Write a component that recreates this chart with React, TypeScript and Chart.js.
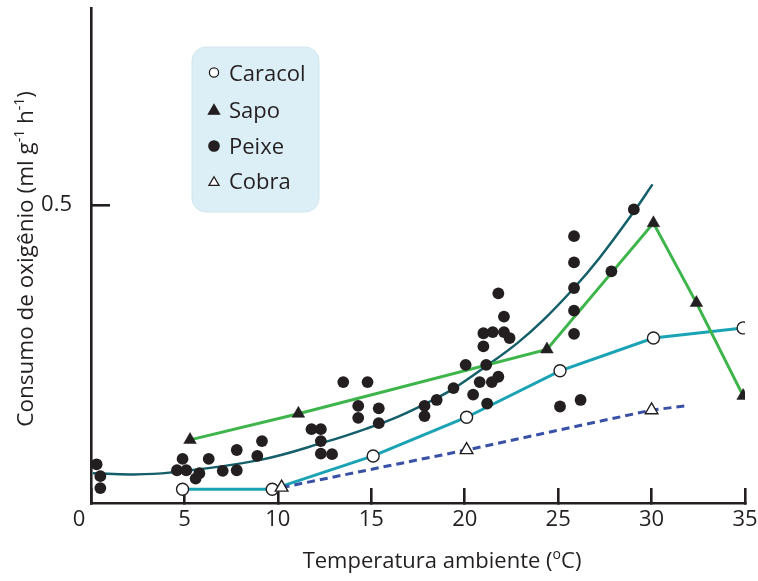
import React, { useEffect, useRef } from 'react';
import { Chart, registerables } from 'chart.js';

Chart.register(...registerables);

// ---------------- data ----------------
const caracolX = [4.9, 9.7, 15.1, 20.1, 25.1, 30.1, 34.9];
const caracolY = [0.023, 0.023, 0.079, 0.144, 0.222, 0.277, 0.294];

const sapoX = [5.3, 11.1, 24.4, 30.1, 32.4, 34.9];
const sapoY = [0.106, 0.15, 0.258, 0.47, 0.336, 0.18];

const cobraX = [10.2, 20.1, 30.0, 31.8];
const cobraY = [0.026, 0.089, 0.156, 0.163];
const cobraMarked = [true, true, true, false];

const peixeX = [
  0.3, 0.5, 0.5, 4.9, 4.6, 5.1, 5.6, 5.8, 6.3, 7.05, 7.8, 7.8, 8.9, 9.15,
  11.8, 12.3, 12.3, 12.3, 12.9, 13.5, 14.8, 14.3, 14.3, 15.4, 15.4, 17.85,
  17.85, 18.5, 19.4, 20.05, 20.45, 20.8, 21.2, 21.45, 21.8, 21.15, 21.0,
  21.0, 21.5, 22.1, 22.4, 22.1, 21.8, 29.05, 25.85, 25.85, 25.85, 25.85,
  25.85, 27.85, 25.1, 26.2,
];
const peixeY = [
  0.065, 0.045, 0.025, 0.074, 0.055, 0.055, 0.041, 0.05, 0.074, 0.054, 0.089,
  0.055, 0.079, 0.104, 0.124, 0.124, 0.104, 0.083, 0.082, 0.203, 0.203, 0.163,
  0.143, 0.159, 0.134, 0.163, 0.146, 0.173, 0.193, 0.232, 0.182, 0.203, 0.167,
  0.203, 0.212, 0.232, 0.263, 0.285, 0.287, 0.287, 0.277, 0.313, 0.352, 0.493,
  0.448, 0.404, 0.361, 0.323, 0.284, 0.389, 0.162, 0.173,
];

// fitted trend curve for Peixe
const curveX = [0.1, 2.2, 4.2, 9.0, 12.6, 14.75, 16.5, 18.3, 19.4, 21.2, 22.8, 24.2, 25.85, 27.2, 29.0, 30.05];
const curveY = [0.05, 0.048, 0.051, 0.072, 0.103, 0.125, 0.146, 0.173, 0.192, 0.231, 0.268, 0.307, 0.361, 0.411, 0.487, 0.535];

const xTickValues = [0, 5, 10, 15, 20, 25, 30, 35];
const xTickLabels = ['0', '5', '10', '15', '20', '25', '30', '35'];
const yTickValues = [0.5];
const yTickLabels = ['0.5'];

const legendLabels = ['Caracol', 'Sapo', 'Peixe', 'Cobra'];

type Run = { text: string; sup?: boolean };
const xTitleRuns: Run[] = [{ text: 'Temperatura ambiente (' }, { text: 'o', sup: true }, { text: 'C)' }];
const yTitleRuns: Run[] = [
  { text: 'Consumo de oxigênio (ml g' },
  { text: '-1', sup: true },
  { text: ' h' },
  { text: '-1', sup: true },
  { text: ')' },
];

// ---------------- styles ----------------
const FONT = "'Open Sans', sans-serif";
const INK = '#231F20';
const C_CARACOL = '#1AA3B5';
const C_SAPO = '#3DB54A';
const C_COBRA = '#3850A5';
const C_CURVE = '#155F6A';

const toPts = (xs: number[], ys: number[]) => xs.map((x, i) => ({ x, y: ys[i] }));

function drawRuns(ctx: CanvasRenderingContext2D, runs: Run[], ax: number, ay: number, rotation: number, size: number) {
  ctx.save();
  ctx.translate(ax, ay);
  ctx.rotate(rotation);
  const supSize = Math.round(size * 0.62);
  const widths = runs.map((r) => {
    ctx.font = `${r.sup ? supSize : size}px ${FONT}`;
    return ctx.measureText(r.text).width;
  });
  const total = widths.reduce((a, b) => a + b, 0);
  let x = -total / 2;
  ctx.textAlign = 'left';
  ctx.textBaseline = 'alphabetic';
  ctx.fillStyle = INK;
  runs.forEach((r, i) => {
    ctx.font = `${r.sup ? supSize : size}px ${FONT}`;
    ctx.fillText(r.text, x, r.sup ? -size * 0.4 : 0);
    x += widths[i];
  });
  ctx.restore();
}

function drawSymbol(ctx: CanvasRenderingContext2D, style: string, x: number, y: number, r: number, fill: string) {
  ctx.beginPath();
  if (style === 'circle') {
    ctx.arc(x, y, r, 0, Math.PI * 2);
  } else {
    let a = 0;
    ctx.moveTo(x + Math.sin(a) * r, y - Math.cos(a) * r);
    a += (2 * Math.PI) / 3;
    ctx.lineTo(x + Math.sin(a) * r, y - Math.cos(a) * r);
    a += (2 * Math.PI) / 3;
    ctx.lineTo(x + Math.sin(a) * r, y - Math.cos(a) * r);
    ctx.closePath();
  }
  ctx.fillStyle = fill;
  ctx.fill();
  ctx.lineWidth = 1.3;
  ctx.strokeStyle = INK;
  ctx.stroke();
}

const overlayPlugin = {
  id: 'overlayText',
  afterDraw(chart: any) {
    const ctx: CanvasRenderingContext2D = chart.ctx;
    const xs = chart.scales.x;
    const area = chart.chartArea;
    ctx.save();
    // origin label, set left of the axis
    ctx.font = `22px ${FONT}`;
    ctx.fillStyle = INK;
    ctx.textAlign = 'center';
    ctx.textBaseline = 'middle';
    ctx.fillText(xTickLabels[0], xs.getPixelForValue(xTickValues[0]) - 12, xs.top + 16.6);

    // axis titles
    drawRuns(ctx, xTitleRuns, (area.left + area.right) / 2 + 24, 568, 0, 22);
    drawRuns(ctx, yTitleRuns, 33, (area.top + area.bottom) / 2 + 3, -Math.PI / 2, 22.5);

    // legend box
    const bx = 192, by = 47, bw = 127, bh = 165, br = 14;
    ctx.beginPath();
    ctx.moveTo(bx + br, by);
    ctx.arcTo(bx + bw, by, bx + bw, by + bh, br);
    ctx.arcTo(bx + bw, by + bh, bx, by + bh, br);
    ctx.arcTo(bx, by + bh, bx, by, br);
    ctx.arcTo(bx, by, bx + bw, by, br);
    ctx.closePath();
    ctx.fillStyle = '#DDEFF6';
    ctx.fill();
    ctx.lineWidth = 1;
    ctx.strokeStyle = '#CFE6EF';
    ctx.stroke();

    const symbols = [
      { style: 'circle', r: 4.6, fill: '#FFFFFF' },
      { style: 'triangle', r: 6.4, fill: INK },
      { style: 'circle', r: 5.2, fill: INK },
      { style: 'triangle', r: 5.8, fill: '#FFFFFF' },
    ];
    const symY = [72.5, 111, 146, 182.5];
    const textBase = [80.5, 117.5, 153.5, 189];
    legendLabels.forEach((lab, i) => {
      const s = symbols[i];
      drawSymbol(ctx, s.style, 214, symY[i], s.r, s.fill);
      ctx.font = `22px ${FONT}`;
      ctx.fillStyle = INK;
      ctx.textAlign = 'left';
      ctx.textBaseline = 'alphabetic';
      ctx.fillText(lab, 229, textBase[i]);
    });
    ctx.restore();
  },
};

export default function App() {
  const canvasRef = useRef<HTMLCanvasElement | null>(null);

  useEffect(() => {
    document.body.style.margin = '0';
    const canvas = canvasRef.current;
    if (!canvas) return;

    const chart = new Chart(canvas, {
      type: 'scatter',
      data: {
        datasets: [
          {
            label: 'Peixe',
            data: toPts(peixeX, peixeY),
            showLine: false,
            pointStyle: 'circle',
            pointRadius: 5.9,
            pointBackgroundColor: INK,
            pointBorderColor: INK,
            pointBorderWidth: 0,
          },
          {
            label: 'Cobra',
            data: toPts(cobraX, cobraY),
            showLine: true,
            borderColor: C_COBRA,
            borderWidth: 3,
            borderDash: [8, 5],
            pointStyle: 'triangle',
            pointRadius: cobraMarked.map((m) => (m ? 7.3 : 0)),
            pointBackgroundColor: '#FFFFFF',
            pointBorderColor: INK,
            pointBorderWidth: 1.4,
          },
          {
            label: 'Sapo',
            data: toPts(sapoX, sapoY),
            showLine: true,
            borderColor: C_SAPO,
            borderWidth: 3,
            pointStyle: 'triangle',
            pointRadius: 7.3,
            pointBackgroundColor: INK,
            pointBorderColor: INK,
            pointBorderWidth: 0.5,
          },
          {
            label: 'Caracol',
            data: toPts(caracolX, caracolY),
            showLine: true,
            borderColor: C_CARACOL,
            borderWidth: 3,
            pointStyle: 'circle',
            pointRadius: 6,
            pointBackgroundColor: '#FFFFFF',
            pointBorderColor: INK,
            pointBorderWidth: 1.4,
          },
          {
            label: 'Peixe (tendência)',
            data: toPts(curveX, curveY),
            showLine: true,
            borderColor: C_CURVE,
            borderWidth: 2.5,
            tension: 0.4,
            pointRadius: 0,
          },
        ] as any,
      },
      options: {
        responsive: false,
        animation: false,
        events: [],
        layout: { padding: { top: 8, right: 13, left: 0, bottom: 0 } },
        plugins: {
          legend: { display: false },
          tooltip: { enabled: false },
          title: { display: false },
        },
        scales: {
          x: {
            type: 'linear',
            position: 'bottom',
            min: 0,
            max: 35,
            afterBuildTicks: (s: any) => {
              s.ticks = xTickValues.map((v) => ({ value: v }));
            },
            afterFit: (s: any) => {
              s.height = 78;
              s.paddingLeft = 0;
              s.paddingRight = 0;
            },
            grid: {
              drawOnChartArea: false,
              drawTicks: true,
              tickLength: -15,
              tickColor: INK,
              tickWidth: 2.6,
              color: INK,
              lineWidth: 2.6,
            },
            border: { display: true, color: INK, width: 2.6 },
            ticks: {
              padding: 19,
              color: INK,
              font: { family: FONT, size: 22 },
              maxRotation: 0,
              autoSkip: false,
              callback: (_v: any, i: number) => (i === 0 ? '' : xTickLabels[i]),
            },
          },
          y: {
            type: 'linear',
            position: 'left',
            min: 0,
            max: 0.83,
            afterBuildTicks: (s: any) => {
              s.ticks = yTickValues.map((v) => ({ value: v }));
            },
            afterFit: (s: any) => {
              s.width = 91;
              s.paddingTop = 0;
              s.paddingBottom = 0;
            },
            grid: {
              drawOnChartArea: false,
              drawTicks: true,
              tickLength: -19,
              tickColor: INK,
              tickWidth: 2.6,
              color: INK,
              lineWidth: 2.6,
            },
            border: { display: true, color: INK, width: 2.6 },
            ticks: {
              padding: 38,
              color: INK,
              font: { family: FONT, size: 22 },
              callback: (_v: any, i: number) => yTickLabels[i],
            },
          },
        },
      } as any,
      plugins: [overlayPlugin],
    });

    return () => chart.destroy();
  }, []);

  return (
    <div style={{ width: 758, height: 581, position: 'relative' }}>
      <canvas ref={canvasRef} width={758} height={581} style={{ display: 'block' }} />
    </div>
  );
}
